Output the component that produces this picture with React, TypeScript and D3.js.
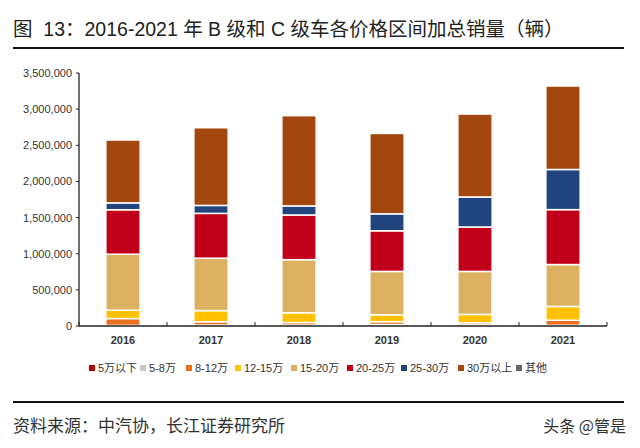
import React from "react";
import * as d3 from "d3";

const years = ["2016", "2017", "2018", "2019", "2020", "2021"];
const seriesNames = ["5万以下", "5-8万", "8-12万", "12-15万", "15-20万", "20-25万", "25-30万", "30万以上", "其他"];
const seriesColors = ["#C00000", "#C8C8C8", "#E8701E", "#FFC000", "#DDB162", "#C0001A", "#22447E", "#A2480E", "#666666"];

const s5 = [5000, 10000, 10000, 15000, 10000, 5000];
const s5_8 = [3000, 3000, 3000, 5000, 5000, 5000];
const s8_12 = [95000, 45000, 35000, 40000, 30000, 70000];
const s12_15 = [115000, 155000, 135000, 95000, 115000, 190000];
const s15_20 = [775000, 725000, 735000, 600000, 595000, 580000];
const s20_25 = [615000, 620000, 618000, 562000, 615000, 760000];
const s25_30 = [95000, 110000, 125000, 235000, 415000, 555000];
const s30 = [870000, 1075000, 1249000, 1112000, 1150000, 1155000];
const sOther = [0, 0, 0, 0, 10000, 0];

const seriesValues = [s5, s5_8, s8_12, s12_15, s15_20, s20_25, s25_30, s30, sOther];
const yTicks = [0, 500000, 1000000, 1500000, 2000000, 2500000, 3000000, 3500000];

const FONT = "'Liberation Sans', Arial, 'Noto Sans CJK SC', sans-serif";
const CJK = "'Noto Sans CJK SC', 'Liberation Sans', sans-serif";

export default function App() {
  const W = 640, H = 448;
  const x0 = 79, x1 = 607, yBase = 326, yTop = 73;
  const x = d3.scaleBand<string>().domain(years).range([x0, x1]).paddingInner(0.61).paddingOuter(0.305);
  const y = d3.scaleLinear().domain([0, 3500000]).range([yBase, yTop]);

  const table = years.map((yr, i) => {
    const row: any = { year: yr };
    seriesNames.forEach((n, k) => (row[n] = seriesValues[k][i]));
    return row;
  });
  const stacked = d3.stack<any>().keys(seriesNames)(table);
  const fmt = d3.format(",");
  const step = (x1 - x0) / years.length;

  const legendX = [89, 140, 186, 235, 291, 347, 401, 458, 516];

  return (
    <svg width={W} height={H} style={{ position: "absolute", left: 0, top: 0, background: "#fff" }}>
      <text x={13} y={36} fontFamily={FONT} fontSize={19.5} fill="#222">
        {"图\u00a0\u00a013：2016-2021 年 B 级和 C 级车各价格区间加总销量（辆）"}
      </text>
      <line x1={13} x2={624} y1={48} y2={48} stroke="#111" strokeWidth={2} />

      {stacked.map((layer, k) => (
        <g key={k} fill={seriesColors[k]}>
          {layer.map((d, i) => {
            const h = y(d[0]) - y(d[1]);
            if (h <= 0) return null;
            return (
              <rect key={i} x={x(years[i])!} width={x.bandwidth()} y={y(d[1])} height={h}
                stroke="#fff" strokeWidth={1.5} />
            );
          })}
        </g>
      ))}

      <line x1={x0} x2={x0} y1={yTop} y2={yBase} stroke="#222" strokeWidth={1.3} />
      <line x1={x0} x2={x1} y1={yBase} y2={yBase} stroke="#222" strokeWidth={1.3} />
      {yTicks.map((t) => (
        <g key={t}>
          <line x1={x0 - 3} x2={x0} y1={y(t)} y2={y(t)} stroke="#222" />
          <text x={x0 - 7} y={y(t) + 4} textAnchor="end" fontFamily={FONT} fontSize={11} fill="#333">
            {fmt(t)}
          </text>
        </g>
      ))}
      {d3.range(years.length + 1).map((i) => (
        <line key={i} x1={x0 + i * step} x2={x0 + i * step} y1={yBase} y2={yBase - 4} stroke="#222" />
      ))}
      {years.map((yr) => (
        <text key={yr} x={x(yr)! + x.bandwidth() / 2} y={344} textAnchor="middle" fontFamily={FONT}
          fontSize={11} fontWeight="bold" fill="#333">
          {yr}
        </text>
      ))}

      {seriesNames.map((n, k) => (
        <g key={n}>
          <rect x={legendX[k]} y={365} width={6} height={6} fill={seriesColors[k]} />
          <text x={legendX[k] + 9} y={372} fontFamily={FONT} fontSize={11} fill="#333">
            {n}
          </text>
        </g>
      ))}

      <line x1={13} x2={624} y1={402} y2={402} stroke="#111" strokeWidth={2} />
      <text x={13} y={432} fontFamily={CJK} fontSize={17} fill="#333">
        资料来源：中汽协，长江证券研究所
      </text>
      <text x={626} y={432} textAnchor="end" fontFamily={CJK} fontSize={16} fill="#333">
        头条 @管是
      </text>
    </svg>
  );
}
